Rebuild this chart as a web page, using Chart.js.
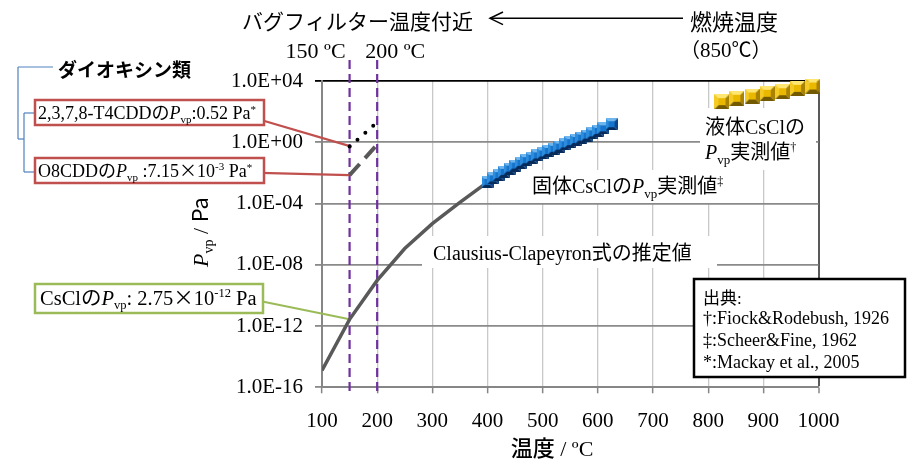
<!DOCTYPE html>
<html>
<head>
<meta charset="utf-8">
<script src="https://cdn.jsdelivr.net/npm/chart.js@4.4.1/dist/chart.umd.min.js"></script>
<style>
  html, body { margin: 0; padding: 0; background: #fff; }
  canvas { display: block; }
</style>
</head>
<body>
<canvas id="c" width="919" height="463"></canvas>
<script>
const SERIF = "'Liberation Serif','Times New Roman',serif";
const JP = "'Noto Sans CJK JP','Noto Sans',sans-serif";

// temperature axis (°C)
const xMin = 100, xMax = 1000, xStep = 100;
const xTickLabels = ['100', '200', '300', '400', '500', '600', '700', '800', '900', '1000'];
// vapour pressure axis (Pa), logarithmic
const yTickValues = [1e-16, 1e-12, 1e-8, 1e-4, 1e0, 1e4];
const yTickLabels = ['1.0E-16', '1.0E-12', '1.0E-08', '1.0E-04', '1.0E+00', '1.0E+04'];

// CsCl, Clausius-Clapeyron estimate
const ccTemp = [100, 150, 200, 250, 300, 350, 400];
const ccPvp = [1.26e-15, 2.75e-12, 9.5e-10, 1.15e-7, 4.9e-6, 1.17e-4, 2.5e-3];

// solid CsCl, measured (Scheer & Fine, 1962)
const solidTemp = [400, 410, 420, 430, 440, 450, 460, 470, 480, 490, 500, 510,
                   520, 530, 540, 550, 560, 570, 580, 590, 600, 610, 625];
const solidPvp = [2.6e-3, 4.4e-3, 7.1e-3, 1.17e-2, 1.9e-2, 3.0e-2, 4.5e-2, 6.8e-2,
                  9.5e-2, 0.138, 0.186, 0.27, 0.37, 0.52, 0.74, 1.02, 1.41, 2.0,
                  2.75, 3.8, 5.5, 8.1, 15];

// liquid CsCl, measured (Fiock & Rodebush, 1926)
const liquidTemp = [825, 852, 880, 907, 935, 962, 990];
const liquidPvp = [447, 741, 1047, 1585, 1995, 3311, 4677];

// dioxins (Mackay et al., 2005)
const dioxinTemp = [150, 200];
const t4cddPvp = [0.52, 20];
const o8cddPvp = [7.15e-3, 0.7];

// bag-filter temperature band
const markTemps = [150, 200];

const pts = (xs, ys) => xs.map((x, i) => ({ x, y: ys[i] }));

// bevelled square marker
function bevelMarker(size, base, light, mid, dark, darker) {
  const c = document.createElement('canvas');
  c.width = c.height = size;
  const g = c.getContext('2d');
  const b = Math.round(size * 0.25);
  const poly = (p, col) => {
    g.fillStyle = col; g.beginPath(); g.moveTo(p[0], p[1]);
    for (let i = 2; i < p.length; i += 2) g.lineTo(p[i], p[i + 1]);
    g.closePath(); g.fill();
  };
  poly([0, 0, size, 0, size - b, b, b, b], light);
  poly([0, 0, b, b, b, size - b, 0, size], mid);
  poly([size, 0, size, size, size - b, size - b, size - b, b], dark);
  poly([0, size, b, size - b, size - b, size - b, size, size], darker);
  g.fillStyle = base; g.fillRect(b, b, size - 2 * b, size - 2 * b);
  return c;
}
const blueMark = bevelMarker(12, '#1674CC', '#6FB6EE', '#2E8CDC', '#0B4488', '#072C5C');
const goldMark = bevelMarker(15, '#EBB800', '#FFE670', '#F4CB24', '#A98200', '#735A00');

const font = (size, fam, style) => (style ? style + ' ' : '') + size + 'px ' + fam;

function drawRich(ctx, x, y, parts, align) {
  let w = 0;
  for (const p of parts) { ctx.font = p.f; w += ctx.measureText(p.t).width; }
  let cx = align === 'center' ? x - w / 2 : align === 'right' ? x - w : x;
  ctx.textAlign = 'left';
  ctx.textBaseline = 'alphabetic';
  for (const p of parts) {
    ctx.font = p.f;
    ctx.fillStyle = p.c || '#000';
    ctx.fillText(p.t, cx, y + (p.dy || 0));
    cx += ctx.measureText(p.t).width;
  }
}

function line(ctx, x1, y1, x2, y2, color, width) {
  ctx.beginPath(); ctx.moveTo(x1, y1); ctx.lineTo(x2, y2);
  ctx.strokeStyle = color; ctx.lineWidth = width; ctx.stroke();
}

const RED = '#C0504D', GREEN = '#9BBB59';

const underlay = {
  id: 'underlay',
  beforeDatasetsDraw(chart) {
    const { ctx, chartArea, scales } = chart;
    const sx = scales.x, sy = scales.y;
    ctx.save();
    // bag-filter temperature markers
    ctx.setLineDash([9, 5]);
    for (const t of markTemps) {
      const x = sx.getPixelForValue(t);
      line(ctx, x, chartArea.top - 21, x, chartArea.bottom + 6, '#7030A0', 2.2);
    }
    ctx.setLineDash([]);

    // callout leaders (the boxes are drawn on top later)
    const pT4 = [sx.getPixelForValue(dioxinTemp[0]), sy.getPixelForValue(t4cddPvp[0])];
    const pO8 = [sx.getPixelForValue(dioxinTemp[0]), sy.getPixelForValue(o8cddPvp[0])];
    const pCs = [sx.getPixelForValue(ccTemp[1]), sy.getPixelForValue(ccPvp[1])];
    line(ctx, 250, 116.7, pT4[0] + 2, pT4[1], RED, 2.2);
    line(ctx, 250, 172.7, pO8[0], pO8[1], RED, 2.2);
    line(ctx, 250, 299, pCs[0], pCs[1], GREEN, 2);

    // labels on white ground inside the plot
    ctx.fillStyle = '#fff';
    ctx.fillRect(520, 170, 218, 33);
    ctx.fillRect(422, 236, 295, 32);
    ctx.fillRect(700, 108, 116, 62);
    drawRich(ctx, 532, 193, [
      { t: '固体', f: font(20, JP) },
      { t: 'CsCl', f: font(20, SERIF) },
      { t: 'の', f: font(20, JP) },
      { t: 'P', f: font(20, SERIF, 'italic') },
      { t: 'vp', f: font(13, SERIF), dy: 5 },
      { t: '実測値', f: font(20, JP) },
      { t: '‡', f: font(12, SERIF), dy: -8 }
    ]);
    drawRich(ctx, 433, 260, [
      { t: 'Clausius-Clapeyron', f: font(20, SERIF) },
      { t: '式の推定値', f: font(20, JP) }
    ]);
    drawRich(ctx, 705, 133.5, [
      { t: '液体', f: font(20, JP) },
      { t: 'CsCl', f: font(20, SERIF) },
      { t: 'の', f: font(20, JP) }
    ]);
    drawRich(ctx, 705, 158.5, [
      { t: 'P', f: font(20, SERIF, 'italic') },
      { t: 'vp', f: font(13, SERIF), dy: 5 },
      { t: '実測値', f: font(20, JP) },
      { t: '†', f: font(12, SERIF), dy: -8 }
    ]);
    ctx.restore();
  }
};

const overlay = {
  id: 'overlay',
  afterDraw(chart) {
    const { ctx, scales } = chart;
    const sx = scales.x;
    ctx.save();

    // heading and arrow
    drawRich(ctx, 242, 28.7, [{ t: 'バグフィルター温度付近', f: font(21, JP) }]);
    line(ctx, 490, 18.3, 683, 18.3, '#000', 1.5);
    ctx.beginPath(); ctx.moveTo(503, 12); ctx.lineTo(490, 18.3); ctx.lineTo(503, 24.6);
    ctx.strokeStyle = '#000'; ctx.lineWidth = 1.5; ctx.stroke();
    drawRich(ctx, 690, 30, [{ t: '燃焼温度', f: font(22, JP) }]);
    drawRich(ctx, 680, 56.5, [
      { t: '（', f: font(20, JP) },
      { t: '850', f: font(21, SERIF) },
      { t: '℃', f: font(20, JP) },
      { t: '）', f: font(20, JP) }
    ]);
    for (const t of markTemps) {
      drawRich(ctx, sx.getPixelForValue(t) - 34 + (t === 200 ? 52 : 0), 58, [
        { t: t + ' ºC', f: font(22, SERIF) }
      ], 'center');
    }

    // dioxin group bracket
    drawRich(ctx, 58, 77, [{ t: 'ダイオキシン類', f: font(19, JP, 'bold') }]);
    const br = '#4F81BD';
    line(ctx, 18, 67, 53, 67, br, 1.2);
    line(ctx, 18, 67, 18, 139, br, 1.2);
    line(ctx, 18, 139, 24, 139, br, 1.2);
    line(ctx, 24, 113, 24, 172, br, 1.2);
    line(ctx, 24, 113, 35, 113, br, 1.2);
    line(ctx, 24, 172, 35, 172, br, 1.2);

    // callout boxes
    ctx.fillStyle = '#fff';
    ctx.lineWidth = 2.5;
    ctx.strokeStyle = RED;
    ctx.fillRect(35, 100, 229, 25); ctx.strokeRect(35, 100, 229, 25);
    ctx.fillRect(35, 158, 229, 25); ctx.strokeRect(35, 158, 229, 25);
    ctx.strokeStyle = GREEN;
    ctx.fillRect(35, 284, 228, 29); ctx.strokeRect(35, 284, 228, 29);

    drawRich(ctx, 38, 119, [
      { t: '2,3,7,8-T4CDD', f: font(18, SERIF) },
      { t: 'の', f: font(18, JP) },
      { t: 'P', f: font(18, SERIF, 'italic') },
      { t: 'vp', f: font(11, SERIF), dy: 4 },
      { t: ':0.52 Pa', f: font(18, SERIF) },
      { t: '*', f: font(11, SERIF), dy: -6 }
    ]);
    drawRich(ctx, 38, 177, [
      { t: 'O8CDD', f: font(18, SERIF) },
      { t: 'の', f: font(18, JP) },
      { t: 'P', f: font(18, SERIF, 'italic') },
      { t: 'vp', f: font(11, SERIF), dy: 4 },
      { t: ' :7.15', f: font(18, SERIF) },
      { t: '×', f: font(18, JP) },
      { t: '10', f: font(18, SERIF) },
      { t: '-3', f: font(11, SERIF), dy: -7 },
      { t: ' Pa', f: font(18, SERIF) },
      { t: '*', f: font(11, SERIF), dy: -6 }
    ]);
    drawRich(ctx, 40, 305, [
      { t: 'CsCl', f: font(20.5, SERIF) },
      { t: 'の', f: font(20.5, JP) },
      { t: 'P', f: font(20.5, SERIF, 'italic') },
      { t: 'vp', f: font(12.5, SERIF), dy: 4 },
      { t: ': 2.75', f: font(20.5, SERIF) },
      { t: '×', f: font(20.5, JP) },
      { t: '10', f: font(20.5, SERIF) },
      { t: '-12', f: font(12.5, SERIF), dy: -8 },
      { t: ' Pa', f: font(20.5, SERIF) }
    ]);

    // sources
    ctx.fillStyle = '#fff';
    ctx.fillRect(694, 279, 211, 98);
    ctx.strokeStyle = '#000'; ctx.lineWidth = 2.5;
    ctx.strokeRect(694, 279, 211, 98);
    drawRich(ctx, 703, 303.5, [{ t: '出典', f: font(17, JP) }, { t: ':', f: font(17, SERIF) }]);
    drawRich(ctx, 703, 324, [{ t: '†:Fiock&Rodebush, 1926', f: font(18, SERIF) }]);
    drawRich(ctx, 703, 346, [{ t: '‡:Scheer&Fine, 1962', f: font(18, SERIF) }]);
    drawRich(ctx, 703, 368, [{ t: '*:Mackay et al., 2005', f: font(18, SERIF) }]);

    // axis titles
    drawRich(ctx, 552, 455.5, [
      { t: '温度', f: font(22, JP, '500') },
      { t: ' / ºC', f: font(22, SERIF) }
    ], 'center');
    ctx.save();
    ctx.translate(208, 232);
    ctx.rotate(-Math.PI / 2);
    drawRich(ctx, 0, 0, [
      { t: 'P', f: font(22, SERIF, 'italic') },
      { t: 'vp', f: font(14, SERIF), dy: 5 },
      { t: ' / ', f: font(22, SERIF) },
      { t: 'Pa', f: font(22, JP) }
    ], 'center');
    ctx.restore();

    ctx.restore();
  }
};

new Chart(document.getElementById('c'), {
  type: 'scatter',
  data: {
    datasets: [
      { label: 'solid', data: pts(solidTemp, solidPvp), pointStyle: blueMark, pointRadius: 6, order: 1, clip: false },
      { label: 'liquid', data: pts(liquidTemp, liquidPvp), pointStyle: goldMark, pointRadius: 7, order: 1, clip: false },
      { label: 'T4CDD', data: pts(dioxinTemp, t4cddPvp), showLine: true, borderColor: '#000', borderWidth: 4,
        borderDash: [0, 10.5], borderCapStyle: 'round', pointRadius: 0, order: 2 },
      { label: 'O8CDD', data: pts(dioxinTemp, o8cddPvp), showLine: true, borderColor: '#595959', borderWidth: 4,
        borderDash: [15, 8], pointRadius: 0, order: 2 },
      { label: 'CC', data: pts(ccTemp, ccPvp), showLine: true, borderColor: '#595959', borderWidth: 3.5,
        pointRadius: 0, order: 3 }
    ]
  },
  options: {
    responsive: false,
    animation: false,
    devicePixelRatio: 1,
    layout: { padding: { left: 0, top: 81, right: 100.5, bottom: 0 } },
    plugins: { legend: { display: false }, tooltip: { enabled: false } },
    scales: {
      x: {
        type: 'linear', min: xMin, max: xMax,
        ticks: { stepSize: xStep, callback: (v, i) => xTickLabels[i], color: '#000',
                 font: { family: SERIF, size: 21 }, padding: 16, maxRotation: 0, autoSkip: false },
        grid: {
          color: c => (c.tick && c.tick.value === xMax ? '#595959' : '#c8c8c8'),
          lineWidth: c => (c.tick && c.tick.value === xMax ? 2 : 1.3),
          tickColor: '#868686', tickLength: 6, tickWidth: 1.5
        },
        border: { color: '#868686', width: 2 },
        afterFit: s => { s.height = 463 - 387.3; }
      },
      y: {
        type: 'logarithmic', min: yTickValues[0], max: yTickValues[yTickValues.length - 1],
        afterBuildTicks: s => { s.ticks = yTickValues.map(v => ({ value: v })); },
        ticks: { callback: (v, i) => yTickLabels[i], color: '#000', font: { family: SERIF, size: 21 }, padding: 12, autoSkip: false },
        grid: {
          color: c => (c.tick && c.tick.value === 1e4 ? '#000' : '#8a8a8a'),
          tickColor: c => (c.tick && c.tick.value === 1e4 ? '#000' : '#8a8a8a'),
          lineWidth: 1.8, tickLength: 7
        },
        border: { color: '#868686', width: 2 },
        afterFit: s => { s.width = 322; }
      }
    }
  },
  plugins: [underlay, overlay]
});
</script>
</body>
</html>
